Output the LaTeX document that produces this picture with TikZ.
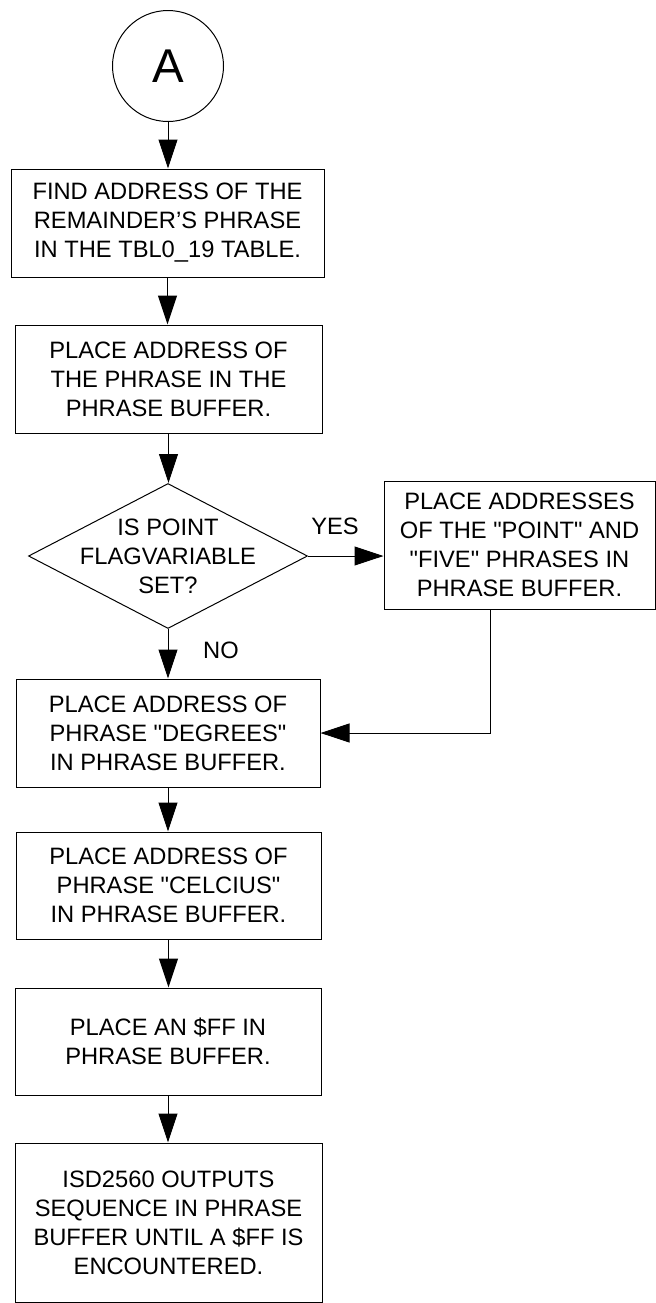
\documentclass[tikz,border=0pt]{standalone}
\usepackage{fontspec}
\setmainfont{Liberation Sans}
\usetikzlibrary{shapes.geometric,arrows.meta}

\newcommand{\boxfont}{\fontsize{11.85pt}{14.5pt}\selectfont}
\newcommand{\qt}{\textquotedbl}

\begin{document}
\begin{tikzpicture}[x=0.5pt, y=-0.5pt, line width=0.5pt,
    stepbox/.style = {draw, rectangle, align=center, inner sep=2pt, font=\boxfont},
    decision/.style = {draw, diamond, inner sep=0pt, minimum width=139.5pt, minimum height=72.5pt},
    flow/.style = {-{Triangle[length=14.5pt, width=9.5pt]}}]

    \useasboundingbox (0,0) rectangle (656,1303);

    % Connector A
    \node[draw, circle, minimum size=55.5pt, inner sep=0pt,
          font=\fontsize{23.7pt}{28pt}\selectfont] (A) at (168,66) {A};

    % Find address
    \node[stepbox, minimum width=156.5pt, minimum height=54pt] (find) at (167.5,223)
        {FIND ADDRESS OF THE\\REMAINDER’S PHRASE\\IN THE TBL0\_19 TABLE.};

    % Place address
    \node[stepbox, minimum width=153.5pt, minimum height=54pt] (place) at (168.5,379)
        {PLACE ADDRESS OF\\THE PHRASE IN THE\\PHRASE BUFFER.};

    % Point flag test
    \node[decision, label={[align=center, font=\boxfont]center:IS POINT\\FLAGVARIABLE\\SET?}] (point) at (168,556) {};

    % Point and five
    \node[stepbox, minimum width=135.5pt, minimum height=64pt] (addr) at (519.5,545)
        {PLACE ADDRESSES\\OF THE \qt POINT\qt{} AND\\\qt FIVE\qt{} PHRASES IN\\PHRASE BUFFER.};

    % Degrees
    \node[stepbox, minimum width=152pt, minimum height=54pt] (degrees) at (168,733)
        {PLACE ADDRESS OF\\PHRASE \qt DEGREES\qt\hspace*{12pt}\\IN PHRASE BUFFER.};

    % Celcius
    \node[stepbox, minimum width=152.5pt, minimum height=53.5pt] (celcius) at (168.5,885.5)
        {PLACE ADDRESS OF\\PHRASE \qt CELCIUS\qt\hspace*{12pt}\\IN PHRASE BUFFER.};

    % End marker
    \node[stepbox, minimum width=153pt, minimum height=53.5pt] (ff) at (168,1041.5)
        {PLACE AN \$FF IN\\PHRASE BUFFER.};

    % Output
    \node[stepbox, minimum width=153.5pt, minimum height=79.5pt] (out) at (168.5,1222.5)
        {ISD2560 OUTPUTS\\SEQUENCE IN PHRASE\\BUFFER UNTIL A \$FF IS\\ENCOUNTERED.};

    % Connectors
    \draw[flow] (A.south) -- (A.south |- find.north);
    \draw[flow] (find.south) -- (find.south |- place.north);
    \draw[flow] (place.south) -- (place.south |- point.north);
    \draw[flow] (point.east) -- (point.east -| addr.west);
    \draw[flow] (point.south) -- (point.south |- degrees.north);
    \draw[flow] ([xshift=-14.75pt]addr.south) |- (degrees.east);
    \draw[flow] (degrees.south) -- (degrees.south |- celcius.north);
    \draw[flow] (celcius.south) -- (celcius.south |- ff.north);
    \draw[flow] (ff.south) -- (ff.south |- out.north);

    % Branch labels
    \node[font=\boxfont] (yes) at (335,526) {YES};
    \node[font=\boxfont] (no) at (221,650) {NO};
\end{tikzpicture}
\end{document}
